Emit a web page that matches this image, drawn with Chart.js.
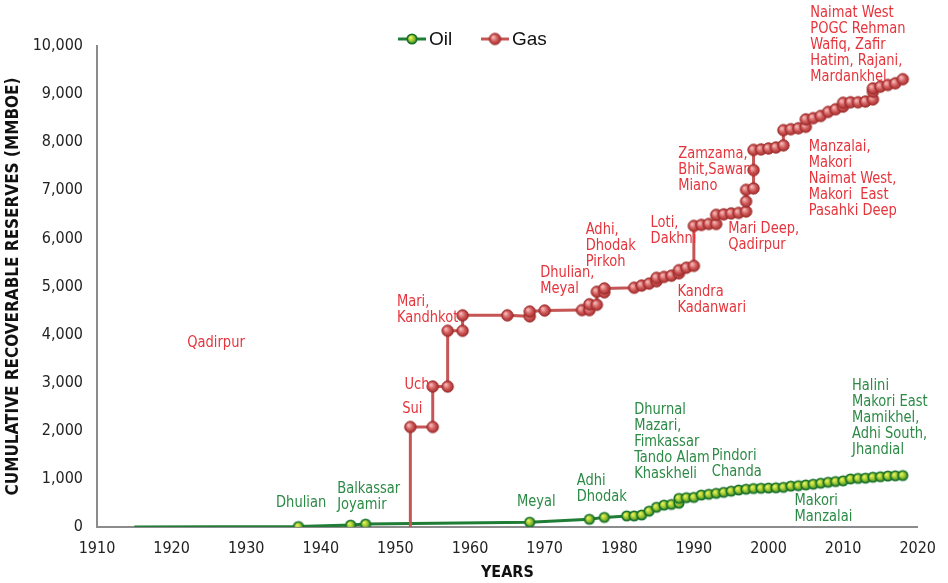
<!DOCTYPE html>
<html>
<head>
<meta charset="utf-8">
<script src="https://cdn.jsdelivr.net/npm/chart.js@4.4.0/dist/chart.umd.min.js"></script>
<style>
    html, body { margin: 0; padding: 0; background: #fff; }
</style>
</head>
<body>
<canvas id="reservesChart" width="948" height="583"></canvas>
<script>
// Oil: cumulative recoverable reserves (MMBOE) by discovery year
var oilYears = [1915, 1937, 1944, 1946, 1968, 1976, 1978, 1981, 1982, 1983, 1984, 1985, 1986, 1987,
    1988, 1988, 1989, 1990, 1991, 1992, 1993, 1994, 1995, 1996, 1997, 1998, 1999, 2000, 2001,
    2002, 2003, 2004, 2005, 2006, 2007, 2008, 2009, 2010, 2011, 2012, 2013, 2014, 2015, 2016, 2017, 2018];
var oilReserves = [0, 10, 40, 60, 100, 160, 200, 230, 230, 250, 330, 410, 455, 470,
    495, 595, 610, 615, 665, 680, 700, 720, 745, 770, 785, 800, 805, 810, 815,
    825, 850, 860, 875, 890, 910, 930, 945, 960, 1000, 1010, 1015, 1035, 1045, 1060, 1065, 1070];

// Gas: cumulative recoverable reserves (MMBOE), steps as drawn
var gasYears = [1952, 1952, 1955, 1955, 1957, 1957, 1959, 1959, 1965, 1968, 1968, 1970, 1975, 1976,
    1976, 1977, 1977, 1978, 1978, 1982, 1983, 1984, 1985, 1985, 1986, 1987, 1988, 1988, 1989,
    1990, 1990, 1991, 1992, 1993, 1993, 1994, 1995, 1996, 1997, 1997, 1997, 1998, 1998, 1998,
    1999, 2000, 2001, 2002, 2002, 2003, 2004, 2005, 2005, 2006, 2007, 2008, 2009, 2010, 2010,
    2011, 2012, 2013, 2014, 2014, 2014, 2015, 2016, 2017, 2018];
var gasReserves = [0, 2080, 2080, 2920, 2920, 4080, 4080, 4400, 4400, 4380, 4480, 4500, 4510, 4510,
    4630, 4620, 4890, 4880, 4960, 4975, 5020, 5060, 5110, 5180, 5200, 5225, 5275, 5340, 5390,
    5430, 6260, 6280, 6300, 6300, 6490, 6500, 6520, 6530, 6560, 6770, 7010, 7040, 7420, 7840,
    7850, 7870, 7890, 7935, 8250, 8270, 8290, 8320, 8475, 8500, 8545, 8630, 8685, 8740, 8820,
    8830, 8830, 8845, 8890, 9050, 9120, 9155, 9190, 9225, 9310];

// field names, anchored at (year of left edge, reserves at middle of block)
var gasLabels = [
    { text: ['Qadirpur'], year: 1922.1, value: 3825 },
    { text: ['Sui'], year: 1950.9, value: 2453 },
    { text: ['Uch'], year: 1951.2, value: 2952 },
    { text: ['Mari,', 'Kandhkot'], year: 1950.2, value: 4511 },
    { text: ['Dhulian,', 'Meyal'], year: 1969.4, value: 5114 },
    { text: ['Adhi,', 'Dhodak', 'Pirkoh'], year: 1975.5, value: 5852 },
    { text: ['Loti,', 'Dakhni'], year: 1984.2, value: 6164 },
    { text: ['Kandra', 'Kadanwari'], year: 1987.8, value: 4730 },
    { text: ['Zamzama,', 'Bhit,Sawan,', 'Miano'], year: 1987.9, value: 7432 },
    { text: ['Mari Deep,', 'Qadirpur'], year: 1994.6, value: 6029 },
    { text: ['Naimat West', 'POGC Rehman', 'Wafiq, Zafir', 'Hatim, Rajani,', 'Mardankhel'], year: 2005.6, value: 10031 },
    { text: ['Manzalai,', 'Makori', 'Naimat West,', 'Makori  East', 'Pasahki Deep'], year: 2005.4, value: 7245 }
];
var oilLabels = [
    { text: ['Dhulian'], year: 1934.0, value: 499 },
    { text: ['Balkassar', 'Joyamir'], year: 1942.2, value: 634 },
    { text: ['Meyal'], year: 1966.3, value: 520 },
    { text: ['Adhi', 'Dhodak'], year: 1974.3, value: 790 },
    { text: ['Dhurnal', 'Mazari,', 'Fimkassar', 'Tando Alam', 'Khaskheli'], year: 1982.0, value: 1767 },
    { text: ['Pindori', 'Chanda'], year: 1992.4, value: 1320 },
    { text: ['Makori', 'Manzalai'], year: 2003.5, value: 385 },
    { text: ['Halini', 'Makori East', 'Mamikhel,', 'Adhi South,', 'Jhandial'], year: 2011.2, value: 2266 }
];

var narrow = "'Liberation Sans Narrow', 'DejaVu Sans Condensed', 'Roboto Condensed', 'Arial Narrow', sans-serif";
var oilColor = '#1f7d36';
var gasColor = '#c65656';
var oilText = '#2b8a45';
var gasText = '#e5343b';

// little shaded balls used as point markers
function makeBall(r, light, body, rim, stroke, lw) {
    var size = Math.ceil(r * 2 + lw + 2);
    var c = document.createElement('canvas');
    c.width = size; c.height = size;
    var g = c.getContext('2d');
    var cx = size / 2, cy = size / 2;
    var grad = g.createRadialGradient(cx - r * 0.35, cy - r * 0.35, r * 0.1, cx, cy, r);
    grad.addColorStop(0, light);
    grad.addColorStop(0.55, body);
    grad.addColorStop(1, rim);
    g.beginPath();
    g.arc(cx, cy, r, 0, Math.PI * 2);
    g.fillStyle = grad;
    g.fill();
    g.lineWidth = lw;
    g.strokeStyle = stroke;
    g.stroke();
    return c;
}
var oilBall = makeBall(4.8, '#e8f462', '#9cc42c', '#2a8030', '#17712b', 1.6);
var gasBall = makeBall(5.7, '#f7b9b9', '#cf5a5a', '#a52c2c', '#9c2a2a', 1);

function toPoints(xs, ys) {
    return xs.map(function (x, i) { return { x: x, y: ys[i] }; });
}
// first point of each series only starts the line, no marker
function hideFirst(ctx) { return ctx.dataIndex === 0 ? 0 : 6; }

var labelPlugin = {
    id: 'fieldLabels',
    afterDatasetsDraw: function (chart) {
        var ctx = chart.ctx;
        var xs = chart.scales.x, ys = chart.scales.y;
        var lh = 16;
        var squeeze = 0.88;
        ctx.save();
        ctx.font = '16.5px ' + narrow;
        ctx.textAlign = 'left';
        ctx.textBaseline = 'middle';
        function drawGroup(list, color) {
            ctx.fillStyle = color;
            list.forEach(function (lab) {
                var px = xs.getPixelForValue(lab.year);
                var py = ys.getPixelForValue(lab.value) - (lab.text.length - 1) * lh / 2;
                lab.text.forEach(function (t, i) {
                    ctx.save();
                    ctx.translate(px, py + i * lh);
                    ctx.scale(squeeze, 1);
                    ctx.fillText(t, 0, 0);
                    ctx.restore();
                });
            });
        }
        drawGroup(gasLabels, gasText);
        drawGroup(oilLabels, oilText);

        // legend: line with ball, then name
        var items = [
            { name: 'Oil', color: oilColor, ball: oilBall, x: 398 },
            { name: 'Gas', color: gasColor, ball: gasBall, x: 481 }
        ];
        var ly = 39;
        ctx.font = "19px 'Liberation Sans', Arial, sans-serif";
        items.forEach(function (it) {
            ctx.strokeStyle = it.color;
            ctx.lineWidth = 3;
            ctx.beginPath();
            ctx.moveTo(it.x, ly);
            ctx.lineTo(it.x + 28, ly);
            ctx.stroke();
            ctx.drawImage(it.ball, it.x + 14 - it.ball.width / 2, ly - it.ball.height / 2);
            ctx.fillStyle = '#111';
            ctx.fillText(it.name, it.x + 31, ly + 1);
        });
        ctx.restore();
    }
};

var ctx = document.getElementById('reservesChart').getContext('2d');
var reservesChart = new Chart(ctx, {
    type: 'line',
    data: {
        datasets: [{
            label: 'Oil',
            data: toPoints(oilYears, oilReserves),
            borderColor: oilColor,
            borderWidth: 3,
            pointStyle: oilBall,
            pointRadius: hideFirst,
            order: 2
        }, {
            label: 'Gas',
            data: toPoints(gasYears, gasReserves),
            borderColor: gasColor,
            borderWidth: 3,
            pointStyle: gasBall,
            pointRadius: hideFirst,
            order: 1
        }]
    },
    options: {
        responsive: false,
        animation: false,
        layout: { padding: { top: 46, right: 25, left: 0, bottom: 0 } },
        plugins: {
            legend: { display: false },
            tooltip: { enabled: false }
        },
        scales: {
            x: {
                type: 'linear',
                min: 1910,
                max: 2020,
                ticks: {
                    stepSize: 10,
                    padding: 12,
                    color: '#222',
                    font: { family: narrow, size: 16 },
                    callback: function (v) { return String(v); }
                },
                grid: { display: true, drawOnChartArea: false, drawTicks: false },
                border: { display: true, color: '#8c8c8c', width: 2 },
                title: {
                    display: true,
                    text: 'YEARS',
                    color: '#111',
                    padding: { top: 0, bottom: 1 },
                    font: { family: narrow, size: 16, weight: 'bold' }
                },
                afterFit: function (s) { s.height = 56; }
            },
            y: {
                min: 0,
                max: 10000,
                ticks: {
                    stepSize: 1000,
                    padding: 14,
                    color: '#222',
                    font: { family: narrow, size: 16 }
                },
                grid: { display: true, drawOnChartArea: false, drawTicks: false },
                border: { display: true, color: '#8c8c8c', width: 2 },
                title: {
                    display: true,
                    text: 'CUMULATIVE RECOVERABLE RESERVES (MMBOE)',
                    color: '#111',
                    padding: { top: 3, bottom: 0 },
                    font: { family: narrow, size: 17, weight: 'bold' }
                },
                afterFit: function (s) { s.width = 97; }
            }
        }
    },
    plugins: [labelPlugin]
});
</script>
</body>
</html>
